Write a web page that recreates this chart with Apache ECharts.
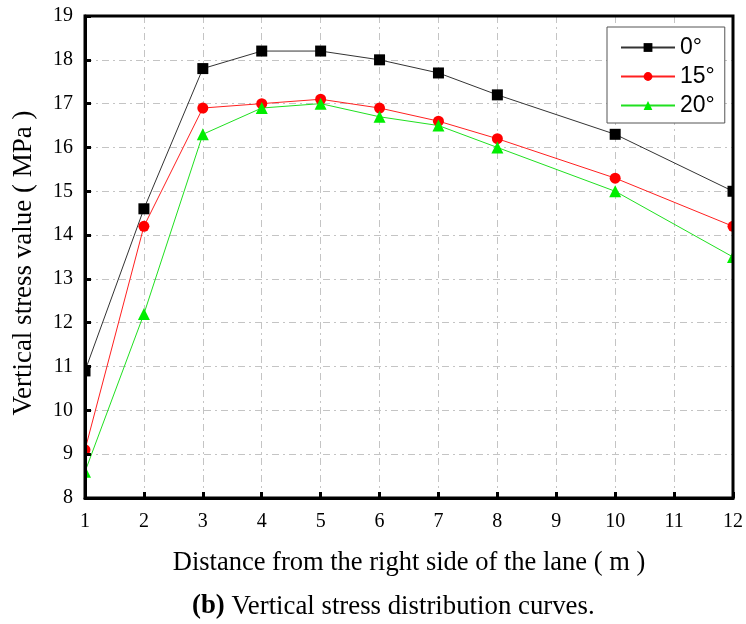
<!DOCTYPE html>
<html>
<head>
<meta charset="utf-8">
<script src="https://cdn.jsdelivr.net/npm/echarts@6/dist/echarts.min.js"></script>
<style>html,body{margin:0;padding:0;background:#fff;}#c{width:746px;height:624px;}</style>
</head>
<body>
<div id="c"></div>
<script>
// ---- data ----
const distances = [1, 2, 3, 4, 5, 6, 7, 8, 10, 12];
const stress0 = [10.9, 14.6, 17.8, 18.2, 18.2, 18.0, 17.7, 17.2, 16.3, 15.0];
const stress15 = [9.1, 14.2, 16.9, 17.0, 17.1, 16.9, 16.6, 16.2, 15.3, 14.2];
const stress20 = [8.6, 12.2, 16.3, 16.9, 17.0, 16.7, 16.5, 16.0, 15.0, 13.5];
const seriesNames = ['0°', '15°', '20°'];
const xTicks = [1, 2, 3, 4, 5, 6, 7, 8, 9, 10, 11, 12];
const yTicks = [8, 9, 10, 11, 12, 13, 14, 15, 16, 17, 18, 19];
const xTitle = 'Distance from the right side of the lane ( m )';
const yTitle = 'Vertical stress value ( MPa )';
const caption = '(b)';
const captionRest = ' Vertical stress distribution curves.';

const serif = 'Liberation Serif, Times New Roman, serif';
const sans = 'Liberation Sans, Arial, sans-serif';

const chart = echarts.init(document.getElementById('c'), null, {renderer: 'canvas'});

const G = {left: 85, right: 13, top: 16, bottom: 126};

function pair(arr) { return distances.map((d, i) => [d, arr[i]]); }

const xMin = xTicks[0], xMax = xTicks[xTicks.length - 1];
const yMin = yTicks[0], yMax = yTicks[yTicks.length - 1];

const splitStyle = {show: true, lineStyle: {color: '#c4c4c4', width: 1, type: [7, 4, 2, 4]}};

const option = {
  backgroundColor: '#fff',
  animation: false,
  grid: {left: G.left, right: G.right, top: G.top, bottom: G.bottom, show: true,
         containLabel: false, outerBoundsMode: 'none',
         borderColor: '#000', borderWidth: 3, backgroundColor: 'transparent', z: 10},
  xAxis: [
    {type: 'value', min: xMin, max: xMax, interval: 1, z: 0,
     axisLine: {show: false}, axisTick: {show: false}, axisLabel: {show: false},
     splitLine: splitStyle},
    {type: 'value', min: xMin, max: xMax, interval: 1, position: 'bottom', z: 10,
     axisLine: {show: true, onZero: false, lineStyle: {color: '#000', width: 3}},
     axisTick: {show: true, inside: true, length: 6, lineStyle: {color: '#000', width: 3}},
     axisLabel: {show: true, color: '#000', fontFamily: serif, fontSize: 20, margin: 14},
     splitLine: {show: false},
     name: xTitle, nameLocation: 'middle', nameGap: 52,
     nameTextStyle: {color: '#000', fontFamily: serif, fontSize: 26.5}}
  ],
  yAxis: [
    {type: 'value', min: yMin, max: yMax, interval: 1, z: 0,
     axisLine: {show: false}, axisTick: {show: false}, axisLabel: {show: false},
     splitLine: splitStyle},
    {type: 'value', min: yMin, max: yMax, interval: 1, position: 'left', z: 10,
     axisLine: {show: true, onZero: false, lineStyle: {color: '#000', width: 3}},
     axisTick: {show: true, inside: true, length: 6, lineStyle: {color: '#000', width: 3}},
     axisLabel: {show: true, color: '#000', fontFamily: serif, fontSize: 20, margin: 12},
     splitLine: {show: false},
     name: yTitle, nameLocation: 'middle', nameGap: 48, nameRotate: 90,
     nameTextStyle: {color: '#000', fontFamily: serif, fontSize: 27, padding: [0, 12, 0, 0]}}
  ],
  legend: {
    left: 607, top: 27, orient: 'vertical',
    backgroundColor: '#fff', borderColor: '#555', borderWidth: 1,
    padding: [9, 10, 6, 13], itemGap: 6, itemWidth: 54, itemHeight: 11,
    textStyle: {color: '#000', fontFamily: sans, fontSize: 23},
    data: seriesNames, z: 12
  },
  title: {
    left: 192, top: 593, padding: 0, z: 12,
    text: '{b|' + caption + '}' + captionRest,
    textStyle: {color: '#000', fontFamily: serif, fontSize: 26.8, fontWeight: 'normal',
      rich: {b: {fontFamily: serif, fontSize: 26.8, fontWeight: 'bold', color: '#000'}}}
  },
  graphic: [
    {type: 'rect', z: 5, silent: true, shape: {x: 0, y: 0, width: G.left - 1, height: 624}, style: {fill: '#fff'}},
    {type: 'rect', z: 5, silent: true, shape: {x: 746 - G.right + 1, y: 0, width: G.right, height: 624}, style: {fill: '#fff'}},
    {type: 'rect', z: 5, silent: true, shape: {x: 0, y: 0, width: 746, height: G.top - 1}, style: {fill: '#fff'}},
    {type: 'rect', z: 5, silent: true, shape: {x: 0, y: 624 - G.bottom + 1, width: 746, height: G.bottom}, style: {fill: '#fff'}}
  ],
  series: [
    {name: seriesNames[0], type: 'line', data: pair(stress0), xAxisIndex: 0, yAxisIndex: 0,
     symbol: 'rect', symbolSize: 11, showAllSymbol: true, clip: false,
     lineStyle: {color: '#333', width: 1}, itemStyle: {color: '#000'}},
    {name: seriesNames[1], type: 'line', data: pair(stress15), xAxisIndex: 0, yAxisIndex: 0,
     symbol: 'circle', symbolSize: 11, showAllSymbol: true, clip: false,
     lineStyle: {color: '#ff2020', width: 1}, itemStyle: {color: '#ff0000'}},
    {name: seriesNames[2], type: 'line', data: pair(stress20), xAxisIndex: 0, yAxisIndex: 0,
     symbol: 'triangle', symbolSize: 12, showAllSymbol: true, clip: false,
     lineStyle: {color: '#20e020', width: 1}, itemStyle: {color: '#00ee00'}}
  ]
};
chart.setOption(option);
</script>
</body>
</html>
